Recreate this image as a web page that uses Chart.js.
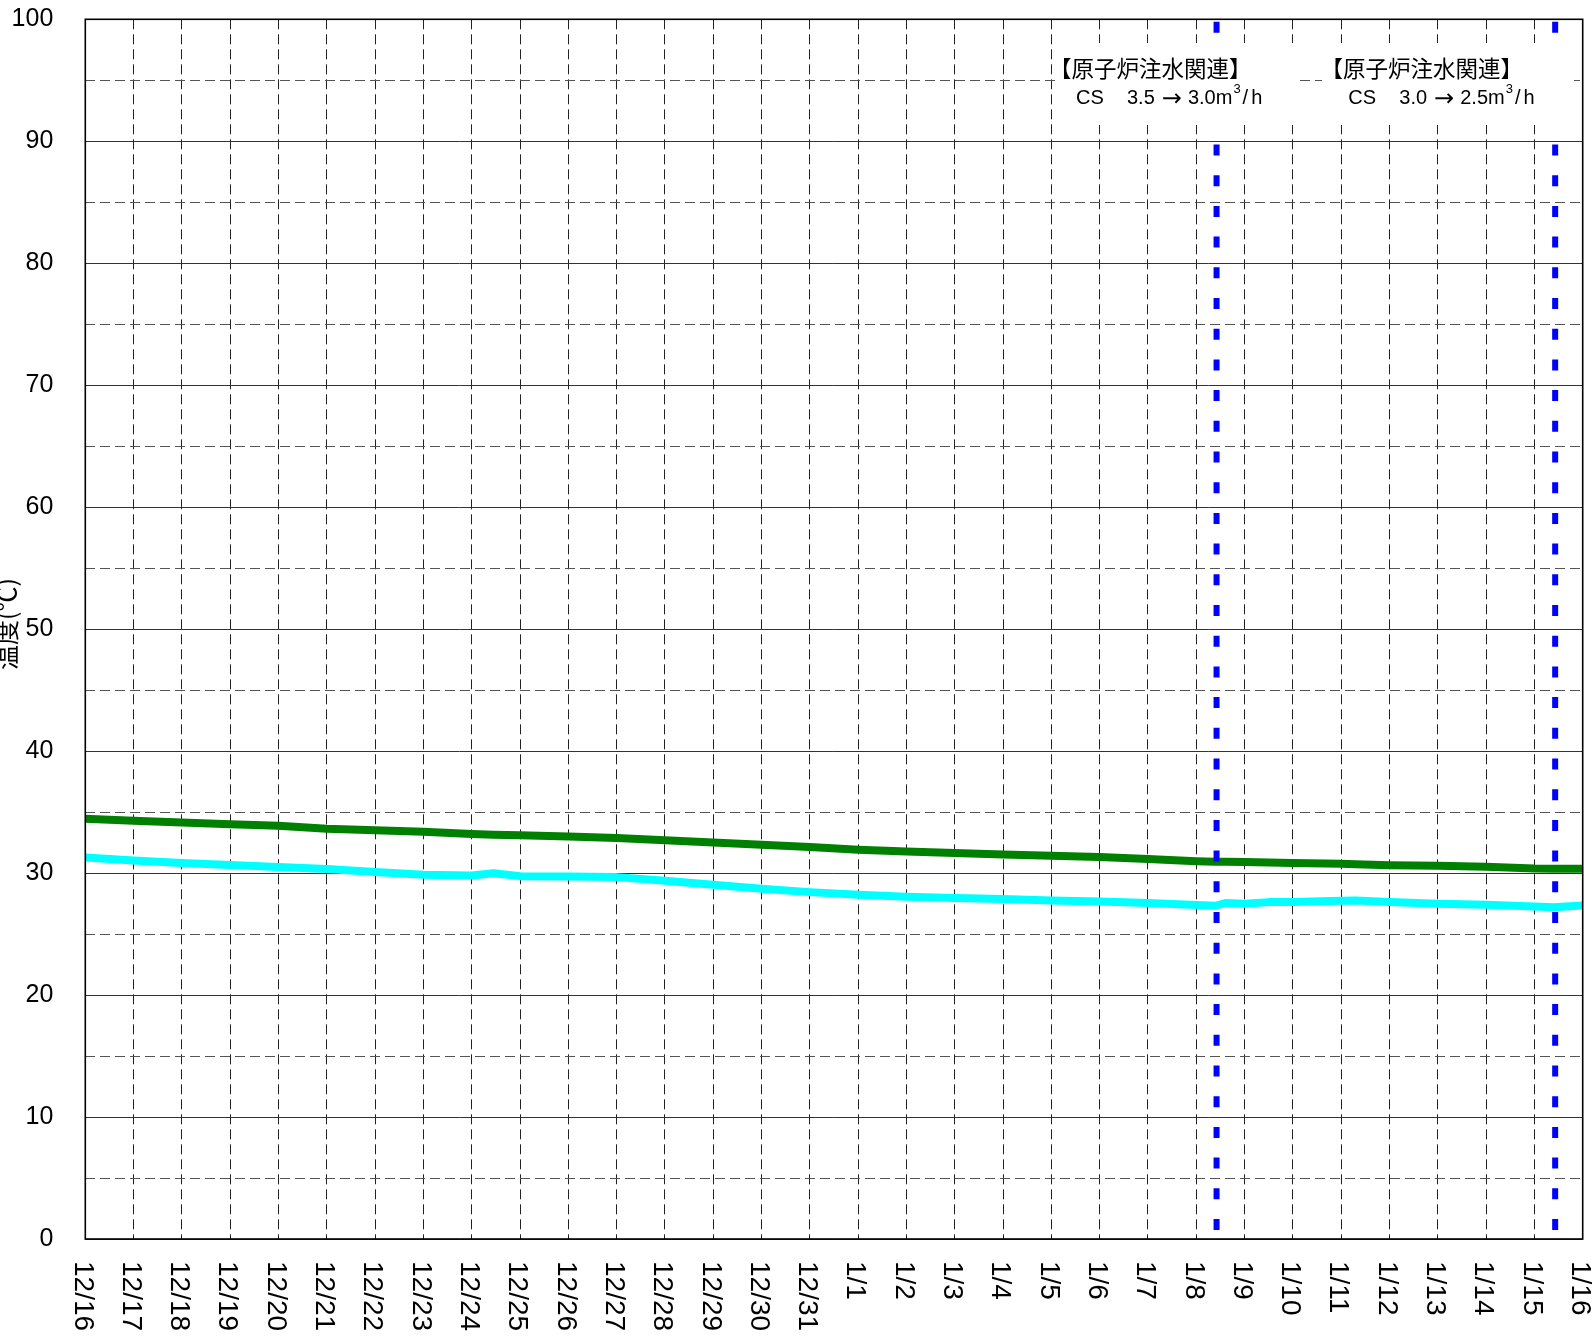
<!DOCTYPE html>
<html>
<head>
<meta charset="utf-8">
<script src="https://cdn.jsdelivr.net/npm/chart.js@4.4.1/dist/chart.umd.min.js"></script>
<style>
  body { margin: 0; background: #fff; }
  #wrap { width: 1595px; height: 1340px; }
</style>
</head>
<body>
<div id="wrap"><canvas id="myChart" width="1595" height="1340"></canvas></div>
<script>
// x = days since 12/16 0:00
const dateLabels = ['12/16', '12/17', '12/18', '12/19', '12/20', '12/21', '12/22', '12/23',
    '12/24', '12/25', '12/26', '12/27', '12/28', '12/29', '12/30', '12/31',
    '1/1', '1/2', '1/3', '1/4', '1/5', '1/6', '1/7', '1/8',
    '1/9', '1/10', '1/11', '1/12', '1/13', '1/14', '1/15', '1/16'];

const days = [0, 1, 2, 3, 4, 5, 6, 7, 8, 8.45, 9, 10, 11, 12, 13, 14, 15, 16, 17, 18, 19, 20,
    21, 22, 23, 23.4, 23.6, 24, 24.5, 25, 26, 26.3, 27, 28, 29, 30, 30.4, 31];

const greenTemp = [34.45, 34.3, 34.15, 34.0, 33.88, 33.63, 33.52, 33.39, 33.2, 33.15, 33.1, 33.0,
    32.87, 32.7, 32.5, 32.32, 32.13, 31.91, 31.77, 31.64, 31.52, 31.42, 31.31, 31.15, 30.98,
    30.93, 30.92, 30.9, 30.86, 30.82, 30.76, 30.73, 30.65, 30.6, 30.52, 30.38, 30.36, 30.35];

const cyanTemp = [31.28, 31.03, 30.82, 30.66, 30.49, 30.33, 30.08, 29.86, 29.8, 29.98, 29.75, 29.72,
    29.67, 29.37, 29.04, 28.71, 28.44, 28.22, 28.06, 27.95, 27.87, 27.75, 27.68, 27.54, 27.38,
    27.32, 27.55, 27.48, 27.62, 27.62, 27.73, 27.75, 27.62, 27.48, 27.40, 27.26, 27.2, 27.34];

// CS flow changes (1/8 and 1/15)
const eventDays = [23.42, 30.43];
const eventNotes = [
    { title: '【原子炉注水関連】', from: '3.5', to: '3.0' },
    { title: '【原子炉注水関連】', from: '3.0', to: '2.5' }
];

const yTitle = '温度(℃)';

const toPoints = (xs, ys) => xs.map((x, i) => ({ x: x, y: ys[i] }));

const datasets = [
    {
        label: 'green',
        data: toPoints(days, greenTemp),
        borderColor: '#008000',
        borderWidth: 8,
        pointRadius: 0,
        borderCapStyle: 'round',
        borderJoinStyle: 'round',
        order: 1
    },
    {
        label: 'cyan',
        data: toPoints(days, cyanTemp),
        borderColor: '#00FFFF',
        borderWidth: 8,
        pointRadius: 0,
        borderCapStyle: 'round',
        borderJoinStyle: 'round',
        order: 1
    }
];
eventDays.forEach((d) => {
    datasets.push({
        label: 'event',
        data: [{ x: d, y: 100 }, { x: d, y: 0 }],
        borderColor: '#0000FF',
        borderWidth: 6,
        borderDash: [11, 19.7],
        borderDashOffset: -2.4,
        pointRadius: 0,
        order: 0
    });
});

// rotated date labels, y title, note boxes and frame
const extras = {
    id: 'extras',
    afterDatasetsDraw(chart) {
        const ctx = chart.ctx;
        const area = chart.chartArea;

        // note boxes
        const boxes = [
            { left: 1055, right: 1298, titleX: 1049, textX: 1076 },
            { left: 1322, right: 1574, titleX: 1320.5, textX: 1348.3 }
        ];
        ctx.save();
        boxes.forEach((b, i) => {
            const note = eventNotes[i];
            ctx.fillStyle = '#fff';
            ctx.fillRect(b.left, 43, b.right - b.left, 82);
            ctx.fillStyle = '#000';
            ctx.font = '22.5px "Noto Sans CJK JP"';
            ctx.textBaseline = 'middle';
            ctx.textAlign = 'left';
            ctx.fillText(note.title, b.titleX, 68);

            // CS  3.5 → 3.0m3/h, pieces chained left to right
            ctx.textBaseline = 'alphabetic';
            const base = 104;
            let x = b.textX;
            ctx.font = '20px "Liberation Sans"';
            ctx.fillText('CS', x, base);
            x += 51;
            ctx.fillText(note.from, x, base);
            x += ctx.measureText(note.from).width + 7;
            ctx.font = '24px "DejaVu Sans"';
            ctx.fillText('\u2192', x, base + 1.5);
            x += ctx.measureText('\u2192').width + 6;
            ctx.font = '20px "Liberation Sans"';
            const tail = note.to + 'm';
            ctx.fillText(tail, x, base);
            x += ctx.measureText(tail).width + 1;
            ctx.font = '13px "Liberation Sans"';
            ctx.fillText('3', x, base - 11);
            x += ctx.measureText('3').width + 2;
            ctx.font = '20px "Liberation Sans"';
            ctx.fillText('/', x, base);
            x += ctx.measureText('/').width + 3;
            ctx.fillText('h', x, base);
        });
        ctx.restore();

        // frame
        ctx.save();
        ctx.strokeStyle = '#000';
        ctx.lineWidth = 1.6;
        ctx.strokeRect(area.left, area.top, area.right - area.left, area.bottom - area.top);
        ctx.restore();
    },
    afterDraw(chart) {
        const ctx = chart.ctx;
        const xs = chart.scales.x;
        ctx.save();
        ctx.fillStyle = '#000';
        ctx.font = '28px "Liberation Sans"';
        ctx.textAlign = 'left';
        ctx.textBaseline = 'middle';
        xs.ticks.forEach((t) => {
            const label = dateLabels[t.value];
            if (label === undefined) return;
            ctx.save();
            ctx.translate(xs.getPixelForValue(t.value) - 3, 1261);
            ctx.rotate(Math.PI / 2);
            ctx.fillText(label, 0, 0);
            ctx.restore();
        });

        ctx.font = '25px "Noto Sans CJK JP"';
        ctx.textAlign = 'center';
        ctx.translate(6, 624);
        ctx.rotate(-Math.PI / 2);
        ctx.fillText(yTitle, 0, 0);
        ctx.restore();
    }
};

const config = {
    type: 'line',
    data: { datasets: datasets },
    options: {
        responsive: false,
        animation: false,
        events: [],
        layout: { padding: { top: 19.3, right: 12.3, left: 0, bottom: 0 } },
        plugins: {
            legend: { display: false },
            tooltip: { enabled: false },
            title: { display: false }
        },
        scales: {
            x: {
                type: 'linear',
                min: 0,
                max: 31,
                ticks: { stepSize: 1, display: false, autoSkip: false },
                grid: { color: '#222', lineWidth: 1, drawTicks: false },
                border: { display: false, dash: [10, 5] },
                afterFit: (scale) => {
                    scale.height = 101;
                    scale.paddingLeft = 0;
                    scale.paddingRight = 0;
                }
            },
            y: {
                min: 0,
                max: 100,
                ticks: {
                    stepSize: 5,
                    autoSkip: false,
                    padding: 32,
                    color: '#000',
                    font: { family: '"Liberation Sans"', size: 25 },
                    callback: (v) => (v % 10 === 0 ? String(v) : '')
                },
                grid: {
                    drawTicks: false,
                    lineWidth: 1,
                    color: (c) => (c.tick && c.tick.value % 10 !== 0 ? '#555' : '#333')
                },
                border: {
                    display: false,
                    dash: (c) => (c.tick && c.tick.value % 10 !== 0 ? [10, 5] : [])
                },
                afterFit: (scale) => {
                    scale.width = 85.3;
                    scale.paddingTop = 0;
                    scale.paddingBottom = 0;
                }
            }
        }
    },
    plugins: [extras]
};

const myChart = new Chart(document.getElementById('myChart'), config);
</script>
</body>
</html>
